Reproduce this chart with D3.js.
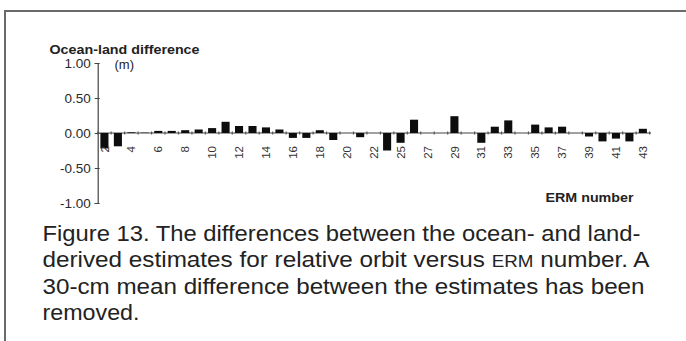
<!DOCTYPE html>
<html>
<head>
<meta charset="utf-8">
<script src="https://cdn.jsdelivr.net/npm/d3@7"></script>
<style>
  body { margin: 0; background: #fff; }
  svg { display: block; }
</style>
</head>
<body>
<div id="chart"></div>
<script>
// ERM numbers (24 is missing in the original series)
var ermNumbers = [2,3,4,5,6,7,8,9,10,11,12,13,14,15,16,17,18,19,20,21,22,23,
                  25,26,27,28,29,30,31,32,33,34,35,36,37,38,39,40,41,42,43]
// ocean minus land difference, metres
var differences = [-0.22,-0.19,0.01,0.005,0.03,0.03,0.04,0.05,0.07,0.16,0.10,0.10,0.08,0.05,-0.07,-0.07,0.04,-0.10,0.0,-0.06,0.0,-0.25,
                   -0.14,0.19,0.0,0.0,0.24,0.0,-0.14,0.09,0.18,0.0,0.12,0.08,0.09,0.0,-0.05,-0.12,-0.08,-0.12,0.06]
var yTicks = [1, 0.5, 0, -0.5, -1]
var captionLines = [
	['Figure 13. The differences between the ocean- and land-'],
	['derived estimates for relative orbit versus ', 'ERM', ' number. A'],
	['30-cm mean difference between the estimates has been'],
	['removed.']
]
var captionWidths = [598, 607, 602, 97]

var width = 686, height = 341
var svg = d3.select('#chart').append('svg').attr('width', width).attr('height', height)
var ink = '#222'
var font = 'Liberation Sans, Arial, sans-serif'

// frame of the figure box
svg.append('path').attr('d', 'M5,' + height + 'V11H' + width)
	.attr('fill', 'none').attr('stroke', '#6a6a6a').attr('stroke-width', 2)

var x = d3.scaleBand().domain(ermNumbers).range([97.7, 649.6]).paddingInner(0.4).paddingOuter(0.2)
var y = d3.scaleLinear().domain([-1, 1]).range([203, 63])

// y axis, hyphen minus like the original
var yAxis = svg.append('g').attr('transform', 'translate(97.7,0)')
	.call(d3.axisLeft(y).tickValues(yTicks).tickSize(3).tickPadding(4)
		.tickFormat(function (d) { return d3.format('.2f')(d).replace('\u2212', '-') }))
yAxis.select('.domain').attr('stroke', '#444').attr('stroke-width', 1.2)
yAxis.selectAll('.tick line').attr('stroke', '#444').attr('x2', 2).attr('x1', -3)
yAxis.selectAll('.tick text').attr('fill', '#2a2a2a').style('font-family', font).style('font-size', '13.5px')

// zero line with small category ticks
svg.append('line').attr('x1', 97.7).attr('x2', 651).attr('y1', y(0)).attr('y2', y(0))
	.attr('stroke', '#444').attr('stroke-width', 1)
svg.append('g').selectAll('line').data(d3.range(ermNumbers.length + 1)).join('line')
	.attr('x1', function (i) { return 97.7 + x.step() * i })
	.attr('x2', function (i) { return 97.7 + x.step() * i })
	.attr('y1', y(0) - 1.5).attr('y2', y(0) + 1.5)
	.attr('stroke', '#555').attr('stroke-width', 1.2)

// bars
svg.append('g').selectAll('rect').data(ermNumbers).join('rect')
	.attr('x', function (d) { return x(d) })
	.attr('width', x.bandwidth())
	.attr('y', function (d, i) { return y(Math.max(0, differences[i])) })
	.attr('height', function (d, i) { return Math.abs(y(differences[i]) - y(0)) })
	.attr('fill', '#0d0d0d')

// category labels, every other one, rotated
svg.append('g').selectAll('text').data(ermNumbers.filter(function (d, i) { return i % 2 == 0 })).join('text')
	.attr('transform', function (d) { return 'translate(' + (x(d) + x.bandwidth() / 2) + ',146) rotate(-90)' })
	.attr('text-anchor', 'end').attr('dy', '0.36em')
	.attr('fill', '#333').style('font-family', font).style('font-size', '11.5px')
	.text(function (d) { return d })

// axis titles
svg.append('text').attr('x', 49.5).attr('y', 54).attr('fill', ink)
	.style('font-family', font).style('font-size', '13.5px').style('font-weight', 'bold')
	.attr('textLength', 150).attr('lengthAdjust', 'spacingAndGlyphs')
	.text('Ocean-land difference')
svg.append('text').attr('x', 114.5).attr('y', 69).attr('fill', ink)
	.style('font-family', font).style('font-size', '13px')
	.text('(m)')
svg.append('text').attr('x', 545.5).attr('y', 201.5).attr('fill', ink)
	.style('font-family', font).style('font-size', '13.5px').style('font-weight', 'bold')
	.attr('textLength', 88).attr('lengthAdjust', 'spacingAndGlyphs')
	.text('ERM number')

// caption
captionLines.forEach(function (parts, li) {
	var t = svg.append('text').attr('x', 42.5).attr('y', 240.5 + li * 26.5).attr('fill', ink)
		.style('font-family', font).style('font-size', '22px')
		.attr('textLength', captionWidths[li]).attr('lengthAdjust', 'spacingAndGlyphs')
	parts.forEach(function (p) {
		t.append('tspan').style('font-size', p == 'ERM' ? '17px' : null).text(p)
	})
})
</script>
</body>
</html>
